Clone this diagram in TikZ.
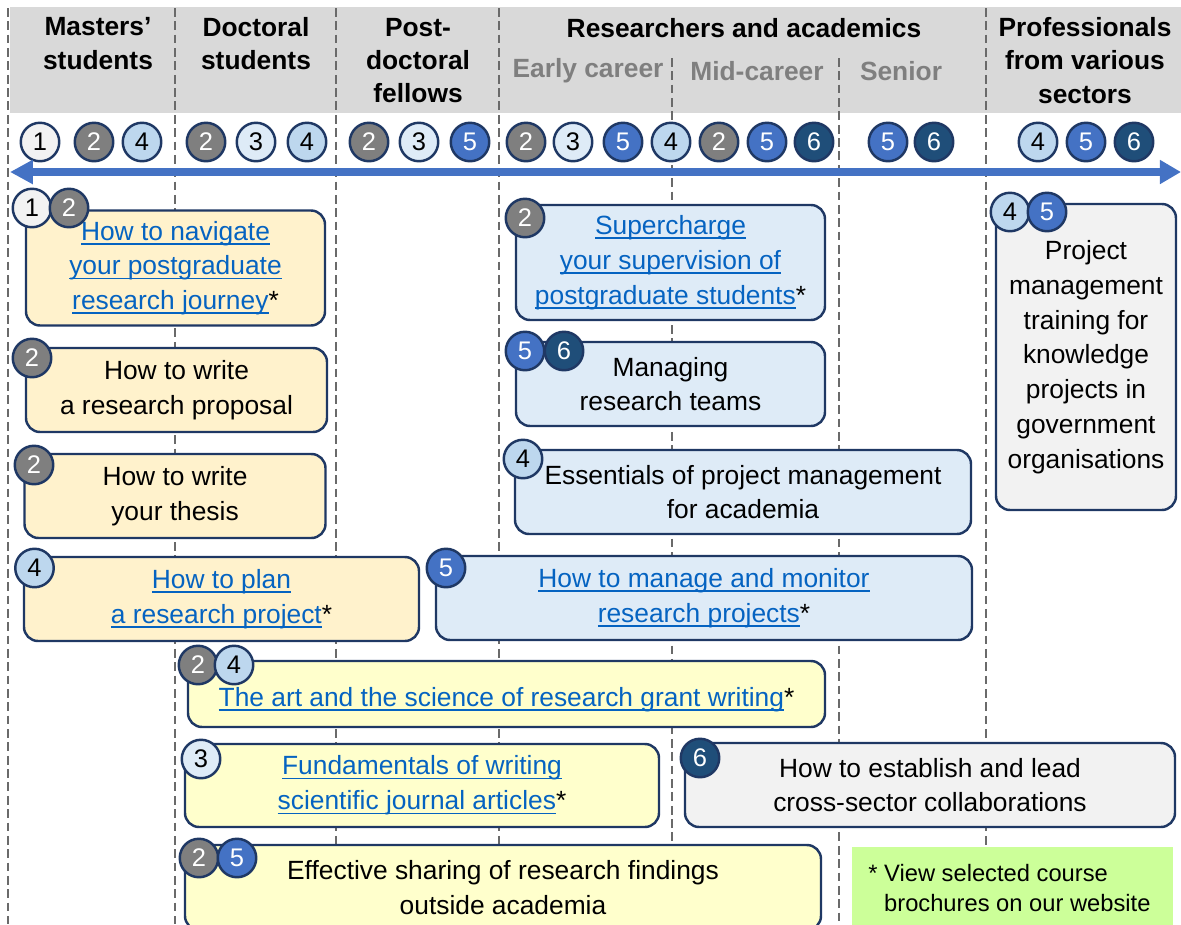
\documentclass[tikz,border=0pt]{standalone}
\usepackage{fontspec}
\setmainfont{Liberation Sans}
\usepackage{xcolor}
\usepackage{tikz}
\usetikzlibrary{arrows.meta}

\definecolor{navy}{HTML}{1F3864}
\definecolor{headgray}{HTML}{D9D9D9}
\definecolor{careergray}{HTML}{7F7F7F}
\definecolor{divgray}{HTML}{6A6A6A}
\definecolor{arrowblue}{HTML}{4472C4}
\definecolor{linkblue}{HTML}{0563C1}
\definecolor{cream}{HTML}{FFF2CC}
\definecolor{paleblue}{HTML}{DEEBF7}
\definecolor{palegray}{HTML}{F2F2F2}
\definecolor{paleyellow}{HTML}{FFFFCC}
\definecolor{notegreen}{HTML}{CCFF99}
\definecolor{b1}{HTML}{F2F2F2}\definecolor{t1}{HTML}{000000}
\definecolor{b2}{HTML}{7F7F7F}\definecolor{t2}{HTML}{FFFFFF}
\definecolor{b3}{HTML}{DEEBF7}\definecolor{t3}{HTML}{000000}
\definecolor{b4}{HTML}{BDD7EE}\definecolor{t4}{HTML}{000000}
\definecolor{b5}{HTML}{4472C4}\definecolor{t5}{HTML}{FFFFFF}
\definecolor{b6}{HTML}{1F4E79}\definecolor{t6}{HTML}{FFFFFF}

\newcommand{\lnk}[1]{{\color{linkblue}\setbox0\hbox{#1}\rlap{\rule[-2.6pt]{\wd0}{1pt}}\box0}}

\begin{document}
\begin{tikzpicture}[x=0.02cm, y=-0.02cm,
    head/.style={align=center, font=\fontsize{15}{19}\selectfont\bfseries},
    divider/.style={divgray, line width=1.1pt, dash pattern=on 5pt off 2.6pt},
    timeline/.style={arrowblue, line width=4pt, {Triangle[length=13pt, width=13pt]}-{Triangle[length=12pt, width=13pt]}},
    course/.style={draw=navy, line width=1.4pt, rounded corners=8pt, align=center, inner sep=0pt, font=\fontsize{15}{19.8}\selectfont, execute at begin node=\rule{0pt}{17.5pt}},
    boxsize/.style 2 args={minimum width=#1*0.02cm, minimum height=#2*0.02cm},
    badge/.style={circle, draw=navy, line width=1.4pt, fill=b#1, text=t#1, minimum size=0.77cm, inner sep=0pt, font=\fontsize{14.5}{15}\selectfont},
    notetext/.style={align=left, inner sep=0pt, font=\fontsize{13.5}{17}\selectfont}
]
\useasboundingbox (0,0) rectangle (1181,924);

\fill[headgray] (10,7) rectangle (1181,113);
\foreach \d/\s in {8/8, 175/8, 336/8, 499/8, 672/58, 839/58, 986/8}
    \draw[divider] (\d,\s) -- (\d,924);

\node[head] (mast) at (98,43.5) {Masters’\\students};
\node[head] (doct) at (256,43.5) {Doctoral\\students};
\node[head] (post) at (418,60.5) {Post-\\doctoral\\fellows};
\node[head] (resr) at (744,28) {Researchers and academics};
\node[head, text=careergray] (early) at (588,71) {Early career};
\node[head, text=careergray] (midc) at (757,71) {Mid-career};
\node[head, text=careergray] (senr) at (901,71) {Senior};
\node[head] (prof) at (1085,60.5) {Professionals\\from various\\sectors};

\foreach \x/\k in {40/1, 94/2, 142/4, 206/2, 256/3, 307/4, 369/2, 419/3, 470/5,
    526/2, 573/3, 623/5, 671/4, 719/2, 767/5, 814/6, 888/5, 934/6, 1038/4, 1086/5, 1134/6}
    \node[badge=\k] (top\x) at (\x,142) {\k};

\coordinate (tl) at (10,172);
\coordinate (tr) at (1181,172);
\draw[timeline] (tl) -- (tr);

\node[course, fill=cream, boxsize={299}{115}] (navig) at (175.5,268) {\lnk{How to navigate}\\\lnk{your postgraduate}\\\lnk{research journey}*};
\node[badge=1] (navig1) at (32,208) {1};
\node[badge=2] (navig2) at (69,208) {2};

\node[course, fill=cream, boxsize={301}{84}] (propo) at (176.5,390) {How to write\\a research proposal};
\node[badge=2] (propo2) at (32,358) {2};

\node[course, fill=cream, boxsize={301}{84}] (thesis) at (175,496) {How to write\\your thesis};
\node[badge=2] (thesis2) at (34,465) {2};

\node[course, fill=cream, boxsize={395}{84}] (plan) at (221.5,599) {\lnk{How to plan}\\\lnk{a research project}*};
\node[badge=4] (plan4) at (34.5,568) {4};

\node[course, fill=paleblue, boxsize={536}{84}] (monit) at (704,598) {\lnk{How to manage and monitor}\\\lnk{research projects}*};
\node[badge=5] (monit5) at (446,568) {5};

\node[course, fill=paleblue, boxsize={309}{115}] (super) at (670.5,262.5) {\lnk{Supercharge}\\\lnk{your supervision of}\\\lnk{postgraduate students}*};
\node[badge=2] (super2) at (525,218) {2};

\node[course, fill=paleblue, boxsize={309}{84}] (teams) at (670.5,384) {Managing\\research teams};
\node[badge=5] (teams5) at (525,351) {5};
\node[badge=6] (teams6) at (564,351) {6};

\node[course, fill=paleblue, boxsize={456}{84}] (essen) at (743,492) {Essentials of project management\\for academia};
\node[badge=4] (essen4) at (523,459) {4};

\node[course, fill=palegray, boxsize={180}{306}] (govt) at (1086,357) {Project\\management\\training for\\knowledge\\projects in\\government\\organisations};
\node[badge=4] (govt4) at (1010,212) {4};
\node[badge=5] (govt5) at (1047,212) {5};

\node[course, fill=paleyellow, boxsize={637}{66}] (grant) at (506.5,694) {\lnk{The art and the science of research grant writing}*};
\node[badge=2] (grant2) at (198,665) {2};
\node[badge=4] (grant4) at (234,665) {4};

\node[course, fill=paleyellow, boxsize={474}{83}] (fundm) at (422,785.5) {\lnk{Fundamentals of writing}\\\lnk{scientific journal articles}*};
\node[badge=3] (fundm3) at (201,759) {3};

\node[course, fill=palegray, boxsize={490}{84}] (cross) at (930,785) {How to establish and lead\\cross-sector collaborations};
\node[badge=6] (cross6) at (700,758) {6};

\node[course, fill=paleyellow, boxsize={636}{85}] (share) at (503,887.5) {Effective sharing of research findings\\outside academia};
\node[badge=2] (share2) at (199,858) {2};
\node[badge=5] (share5) at (237,858) {5};

\node[fill=notegreen, boxsize={321}{90}, anchor=north west, inner sep=0pt] (note) at (852,847) {};
\node[notetext, anchor=west] (notetxt) at (868,888) {* View selected course\\\phantom{* }brochures on our website};
\end{tikzpicture}
\end{document}
